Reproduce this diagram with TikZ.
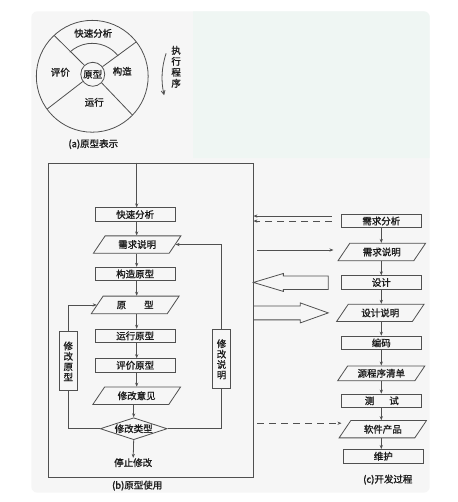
\documentclass[tikz,border=0pt]{standalone}
\usepackage{fontspec}
\newfontfamily\cjk{Noto Sans CJK SC}[FakeBold=1.2]
\usetikzlibrary{arrows.meta,shapes.geometric,calc}
\definecolor{ln}{RGB}{80,80,80}
\definecolor{tx}{RGB}{28,28,28}
\definecolor{bgA}{RGB}{246,246,246}
\definecolor{bgB}{RGB}{239,246,243}
\begin{document}
\begin{tikzpicture}[x=1pt,y=-1pt,
  font=\cjk\fontsize{9.5}{11}\selectfont, text=tx,
  every path/.style={draw=ln, line width=0.8pt},
  box/.style={draw=ln, line width=0.8pt, minimum width=80pt, minimum height=13.5pt, inner sep=0pt},
  para/.style={trapezium, trapezium left angle=56, trapezium right angle=124, draw=ln, line width=0.8pt,
    minimum width=88pt, minimum height=13.5pt, inner sep=1pt},
  vbox/.style={draw=ln, line width=0.8pt, minimum width=18pt, minimum height=59pt, inner sep=0pt, align=center,
    font=\cjk\fontsize{9.5}{10.4}\selectfont},
  arr/.style={-{Stealth[length=4pt,width=3.2pt]}, draw=ln, line width=0.8pt},
  plain/.style={inner sep=0pt}
]
\useasboundingbox (0,0) rectangle (457,502);
\fill[white, draw=none] (0,0) rectangle (457,502);
\fill[bgA, draw=none, rounded corners=6pt] (31,11) rectangle (430,493);
\fill[bgB, draw=none] (193,158) -- (193,11) -- (424,11) arc[start angle=-90, end angle=0, radius=6] -- (430,158) -- cycle;

% ---------- (a) ----------
\coordinate (C) at (92,76);
\draw (C) circle[radius=56];
\node[draw=ln, circle, minimum size=24pt, inner sep=0pt] (core) at (92.5,74) {原型};
\draw (core.133) -- ($(C)+(-133:56)$);
\draw (core.38) -- ($(C)+(-38:56)$);
\draw (core.-44) -- ($(C)+(44:56)$);
\draw (core.216) -- ($(C)+(-216:56)$);
\draw ($(C)+(-38:33)$) arc[start angle=-38, end angle=-133, radius=33];
\node[plain] (qa) at (93,33) {快速分析};
\node[plain] (pj) at (60,72) {评价};
\node[plain] (gz) at (122,71) {构造};
\node[plain] (yx) at (94,102) {运行};
\node[plain] (alab) at (93,144) {(a)原型表示};
\node[plain, align=center, font=\cjk\fontsize{9.5}{11}\selectfont] (exec) at (176,66.5) {执\\行\\程\\序};
\coordinate (r1) at (166,53);
\coordinate (r2) at (164,95);
\draw[-{Straight Barb[length=4pt,width=4pt]}] (r1) .. controls (161,68) and (161,82) .. (r2);

% ---------- (b) ----------
\node[draw=ln, line width=0.8pt, minimum width=205pt, minimum height=315pt, inner sep=0pt] (frame) at (150.5,320.5) {};
\node[box] (b1) at (135,214.5) {快速分析};
\node[para] (b2) at (137,244.5) {需求说明};
\node[box] (b3) at (135,274) {构造原型};
\node[para] (b4) at (135,305) {原\hspace{18pt}型};
\node[box] (b5) at (135,336) {运行原型};
\node[box] (b6) at (135,365.5) {评价原型};
\node[para] (b7) at (136.5,396) {修改意见};
\node[diamond, aspect=3, draw=ln, line width=0.8pt, minimum width=67pt, minimum height=22pt, inner sep=0pt] (b8) at (133.5,429) {修改类型};
\node[plain] (stop) at (133,463) {停止修改};
\node[plain] (blab) at (137,486) {(b)原型使用};
\node[vbox] (lbox) at (68,361.5) {修\\改\\原\\型};
\node[vbox] (rbox) at (221.5,359.5) {修\\改\\说\\明};

\coordinate (bx) at (136.5,0);
\draw[arr] (frame.north -| bx) -- (b1.north -| bx);
\draw[arr] (b1.south -| bx) -- (b2.north -| bx);
\draw[arr] (b2.south -| bx) -- (b3.north -| bx);
\draw[arr] (b3.south -| bx) -- (b4.north -| bx);
\draw[arr] (b4.south -| bx) -- (b5.north -| bx);
\draw[arr] (b5.south -| bx) -- (b6.north -| bx);
\draw[arr] (b6.south -| bx) -- (b7.north -| bx);
\draw[arr] (b7.south -| b8.north) -- (b8.north);
\draw[arr] (b8.south) -- (stop.north);
\draw (b8.west) -| (lbox.south);
\draw[arr] (lbox.north) |- (b4.west);
\draw (b8.east) -| (rbox.south);
\draw[arr] (rbox.north) |- (b2.east);

% ---------- (c) ----------
\node[box] (c1) at (381.5,221) {需求分析};
\node[para] (c2) at (382,252) {需求说明};
\node[box] (c3) at (381.5,282.5) {设计};
\node[para] (c4) at (380.5,313) {设计说明};
\node[box] (c5) at (381.5,343) {编码};
\node[para] (c6) at (381.5,373.5) {源程序清单};
\node[box] (c7) at (382,401) {测\hspace{15pt}试};
\node[para] (c8) at (383,429.5) {软件产品};
\node[box] (c9) at (383.5,456.5) {维护};
\node[plain] (clab) at (388,480) {(c)开发过程};

\coordinate (cx) at (381.5,0);
\draw[arr] (c1.south -| cx) -- (c2.north -| cx);
\draw[arr] (c2.south -| cx) -- (c3.north -| cx);
\draw[arr] (c3.south -| cx) -- (c4.north -| cx);
\draw[arr] (c4.south -| cx) -- (c5.north -| cx);
\draw[arr] (c5.south -| cx) -- (c6.north -| cx);
\draw[arr] (c6.south -| cx) -- (c7.north -| cx);
\draw[arr] (c7.south -| cx) -- (c8.north -| cx);
\draw[arr] (c8.south -| cx) -- (c9.north -| cx);

% ---------- links ----------
\coordinate (s1) at ([xshift=-9pt,yshift=5pt]c1.west);
\draw[arr] (s1) -- (s1 -| frame.east);
\coordinate (s2) at ([xshift=-9pt]c1.west);
\draw[arr, dash pattern=on 7pt off 5pt] (s2) -- (s2 -| frame.east);
\coordinate (s3) at ([xshift=-10pt,yshift=2pt]c2.west);
\coordinate (s3f) at (s3 -| frame.east);
\draw[arr] ([xshift=4pt]s3f) -- (s3);
\coordinate (h1) at (frame.east |- c3.west);
\draw (h1) -- ++(30,-9) -- ++(0,2.5) -- ++(45,0) -- ++(0,13.5) -- ++(-45,0) -- ++(0,2) -- cycle;
\coordinate (h2) at (frame.east |- c4.west);
\draw ([yshift=7pt]h2) -- ++(47,0) -- ++(0,-3) -- ++(28,10) -- ++(-28,10) -- ++(0,-3) -- ++(-47,0);
\coordinate (s4) at ([xshift=-3pt,yshift=6pt]c8.west);
\coordinate (s4f) at (s4 -| frame.east);
\draw[arr, dash pattern=on 7pt off 5pt] ([xshift=4pt]s4f) -- (s4);
\end{tikzpicture}
\end{document}
